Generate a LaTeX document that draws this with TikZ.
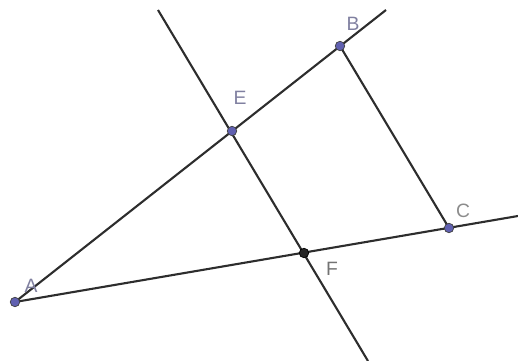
\documentclass[tikz,border=0pt]{standalone}
\usepackage{fontspec}
\setmainfont{Liberation Sans}
\usepackage{xcolor}
\usepackage{tikz}
\usetikzlibrary{backgrounds}
\definecolor{ptblue}{RGB}{96,96,176}
\definecolor{lblgray}{RGB}{128,128,160}
\definecolor{linegray}{RGB}{45,45,45}

\begin{document}
\begin{tikzpicture}[x=0.02cm, y=-0.02cm,
    pt/.style={circle, draw=black!75, fill=ptblue, inner sep=0pt, minimum size=0.19cm},
    lbl/.style={text=lblgray, font=\fontsize{11}{13}\selectfont, inner sep=0pt},
    ln/.style={draw=linegray, line width=1.2pt}]
    \useasboundingbox (0,0) rectangle (518,361);

    \node (A) [pt] at (15,302) {};
    \node (E) [pt] at (232,131) {};
    \node (B) [pt] at (340,46) {};
    \node (C) [pt] at (449,228) {};
    \node (F) [pt, fill=black!85, draw=black] at (304,253) {};

    % line ends
    \coordinate (topAB) at (386,10);
    \coordinate (topEF) at (158,10);
    \coordinate (botEF) at (368,361);
    \coordinate (rightAC) at (518,216);

    \begin{scope}[on background layer]
    \draw[ln] (A.center) -- (topAB);
    \draw[ln] (A.center) -- (rightAC);
    \draw[ln] (topEF) -- (botEF);
    \draw[ln] (B.center) -- (C.center);
    \end{scope}

    \node [lbl] at (31,286) {A};
    \node [lbl] at (240,98) {E};
    \node [lbl] at (353,24) {B};
    \node [lbl, text=black!45] at (463,211) {C};
    \node [lbl, text=black!55] at (332,269) {F};
\end{tikzpicture}
\end{document}
